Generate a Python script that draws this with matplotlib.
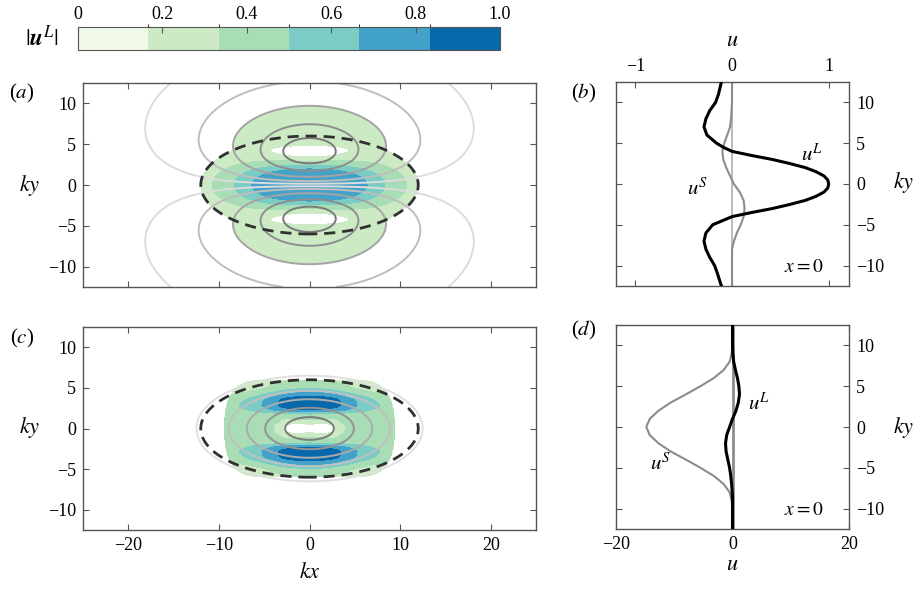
import numpy as np
import matplotlib.pyplot as plt
from matplotlib.colors import ListedColormap, BoundaryNorm
from matplotlib.mathtext import MathTextParser
import matplotlib as mpl

plt.rcParams['font.family'] = ['Liberation Serif', 'DejaVu Serif']
plt.rcParams['mathtext.fontset'] = 'stix'

# ---------------------------------------------------------------------------
# colour classes of |u^L|
# ---------------------------------------------------------------------------
level_edges = [0, 1/6, 2/6, 3/6, 4/6, 5/6, 1.0]
level_colors = ['#f0f9e8', '#ccebc5', '#a8ddb5', '#7bccc4', '#43a2ca', '#0868ac']
cbar_ticks = [0, 0.2, 0.4, 0.6, 0.8, 1.0]
cbar_labels = ['0', '0.2', '0.4', '0.6', '0.8', '1.0']

# ---------------------------------------------------------------------------
# (a) eddy pair, parameters
# ---------------------------------------------------------------------------
a_stretch = 1.44         # kx/ky aspect of the streamlines
a_stretch_u = 1.74       # kx/ky aspect used for |u^L|
a_decay = 9.03           # decay length in ky
a_gain = 1.05            # |u^L| scale
a_cap = 0.8              # |u^L| in the central jet
a_psi_levels = [0.157, 0.479, 0.97, 1.57, 2.07]
a_psi_colors = ['#dcdcdc', '#bebebe', '#a4a4a4', '#8e8e8e', '#7a7a7a']
a_edge_level = 0.97      # streamline bounding the coloured lobes

# (c) single eddy: |u^L| profiles read along x = 0 and ky = 0
c_ky_pts = [0, 0.5, 0.8, 1.8, 2.3, 2.6, 2.8, 3.4, 3.7, 3.9, 4.4, 4.9, 5.75, 6.5, 12.5]
c_u_prof = [0, 0.15, 0.25, 0.5, 0.85, 0.95, 1.0, 1.0, 0.95, 0.86, 0.68, 0.5, 0.38,
            0.32, 0.2]
c_kx_pts = [0, 1.5, 3, 4.6, 7, 9.4, 12, 25]
c_u_env = [1, 0.97, 0.87, 0.7, 0.5, 0.4, 0.3, 0.1]
c_v_kx = [0, 2.0, 2.8, 3.5, 5, 7, 9.4, 12, 25]
c_v_prof = [0, 0.05, 0.15, 0.3, 0.42, 0.45, 0.42, 0.35, 0.1]
c_v_ky = [0, 1, 2, 3, 4, 6, 12.5]
c_v_env = [1, 0.9, 0.65, 0.35, 0.15, 0.0, 0.0]
c_clip = [9.4, 6.0]      # edge of the coloured region

c_stretch = 1.92         # aspect of the grey ellipses
c_rho_levels = [1.4, 2.55, 3.6, 4.65, 6.5]
c_rho_colors = ['#7a7a7a', '#939393', '#ababab', '#c0c0c0', '#e0e0e0']

dash_axes = [12.0, 6.0]  # dashed ellipse

# ---------------------------------------------------------------------------
# profiles at x = 0
# ---------------------------------------------------------------------------
ky_b = [-12.5, -11, -10, -9, -8, -7, -6, -5, -4.5, -4, -3.5, -3, -2.5, -2, -1.5,
        -1, -0.5, 0, 0.5, 1, 1.5, 2, 2.5, 3, 3.5, 4, 4.5, 5, 6, 7, 8, 9, 10, 11, 12.5]
uL_b = [-0.11, -0.15, -0.18, -0.23, -0.27, -0.29, -0.27, -0.20, -0.10, 0.0, 0.20,
        0.42, 0.60, 0.76, 0.87, 0.95, 0.99, 1.0, 0.99, 0.95, 0.87, 0.76, 0.60, 0.42,
        0.20, 0.0, -0.09, -0.16, -0.26, -0.29, -0.27, -0.23, -0.17, -0.14, -0.11]
ky_bs = [-12.5, -10, -8, -7, -6, -5, -4, -3, -2, -1, 0, 1, 2, 3, 4, 5, 6, 7, 8, 10, 12.5]
uS_b = [0.0, 0.0, 0.0, 0.02, 0.05, 0.09, 0.12, 0.13, 0.12, 0.08, 0.02,
        -0.02, -0.06, -0.09, -0.10, -0.08, -0.05, -0.02, -0.01, 0.0, 0.0]

ky_d = [-12.5, -10, -9, -8, -7, -6, -5, -4, -3, -2, -1, 0, 1, 2, 3, 4, 5, 6, 7,
        8, 9, 10, 12.5]
uS_d = [0.0, 0.0, -0.15, -0.5, -1.5, -3.2, -5.5, -8.0, -10.6, -12.7, -14.2, -14.8,
        -14.2, -12.7, -10.6, -8.0, -5.5, -3.2, -1.5, -0.5, -0.15, 0.0, 0.0]
uL_d = [0.0, 0.0, 0.0, -0.05, -0.15, -0.3, -0.5, -0.8, -1.1, -1.2, -1.0, -0.5,
        0.0, 0.6, 1.0, 1.2, 1.1, 0.85, 0.5, 0.2, 0.05, 0.0, 0.0]

# ---------------------------------------------------------------------------
# fields on the wavenumber plane
# ---------------------------------------------------------------------------
kx = np.linspace(-25, 25, 601)
ky = np.linspace(-12.5, 12.5, 301)
KX, KY = np.meshgrid(kx, ky)
AX, AY = np.abs(KX), np.abs(KY)
ell = (KX / dash_axes[0])**2 + (KY / dash_axes[1])**2


def eddy_pair(stretch):
    rho = np.sqrt((KX / stretch)**2 + KY**2)
    return KY / (1 + (rho / a_decay)**2)**3


# (a): streamlines of the eddy pair, speed from the gradient
psi_a = eddy_pair(a_stretch)
dpsi_dy, dpsi_dx = np.gradient(eddy_pair(a_stretch_u), ky, kx)
speed_a = np.minimum(a_gain * np.hypot(dpsi_dy, dpsi_dx), a_cap)
speed_a[(ell > 1) & (np.abs(psi_a) < a_edge_level)] = 0.0

# (c): speed built from the read profiles
u_c = np.interp(AY, c_ky_pts, c_u_prof) * np.interp(AX, c_kx_pts, c_u_env)
v_c = np.interp(AX, c_v_kx, c_v_prof) * np.interp(AY, c_v_ky, c_v_env)
speed_c = np.hypot(u_c, v_c)
speed_c[(AX / c_clip[0])**8 + (AY / c_clip[1])**2 > 1] = 0.0
rho_c = np.sqrt((KX / c_stretch)**2 + KY**2)

# ---------------------------------------------------------------------------
# figure
# ---------------------------------------------------------------------------
W, H = 918, 589
fig = plt.figure(figsize=(W / 100, H / 100), dpi=100)
TICK = 13


def px_axes(x0, y0, x1, y1):
    return fig.add_axes([x0 / W, 1 - y1 / H, (x1 - x0) / W, (y1 - y0) / H])


def style(ax, **labels):
    for s in ax.spines.values():
        s.set_color('#555555')
        s.set_linewidth(1.0)
    ax.tick_params(direction='in', top=True, right=True, length=4, width=0.8,
                   color='#555555', labelsize=TICK, pad=5, **labels)


def fig_text(x, y, s, **kw):
    fig.text(x / W, 1 - y / H, s, ha='center', va='center', **kw)


fill_levels = level_edges[1:]
fill_colors = level_colors[1:]


def field_panel(ax, speed, line_field, line_levels, line_colors):
    ax.contourf(KX, KY, np.clip(speed, 0, 0.999), levels=fill_levels,
                colors=fill_colors, extend='neither')
    ax.contour(KX, KY, line_field, levels=line_levels, colors=line_colors,
               linewidths=1.4)
    ax.contour(KX, KY, ell, levels=[1.0], colors='#303030', linewidths=2.0,
               linestyles=[(0, (4, 2.5))])
    ax.set_xlim(-25, 25)
    ax.set_ylim(-12.5, 12.5)
    ax.set_xticks([-20, -10, 0, 10, 20])
    ax.set_yticks([-10, -5, 0, 5, 10])


# (a)
ax_a = px_axes(83, 83, 536, 287)
lev_a = [-v for v in a_psi_levels[::-1]] + a_psi_levels
col_a = a_psi_colors[::-1] + a_psi_colors
field_panel(ax_a, speed_a, psi_a, lev_a, col_a)
style(ax_a, labelbottom=False)

# (c)
ax_c = px_axes(83, 327, 536, 530)
field_panel(ax_c, speed_c, rho_c, c_rho_levels, c_rho_colors)
style(ax_c)

# (b)
ax_b = px_axes(616, 82, 849, 286)
ax_b.axvline(0, color='#b4b4b4', lw=1.3, zorder=1)
ax_b.plot(uS_b, ky_bs, color='#8c8c8c', lw=1.5, zorder=2)
ax_b.plot(uL_b, ky_b, color='black', lw=2.2, zorder=3)
ax_b.set_xlim(-1.2, 1.21)
ax_b.set_ylim(-12.5, 12.5)
ax_b.set_xticks([-1, 0, 1])
ax_b.set_yticks([-10, -5, 0, 5, 10])
style(ax_b, labelbottom=False, labelleft=False, labeltop=True, labelright=True)
ax_b.text(0.83, 3.5, r'$u^{L}$', fontsize=15, ha='center', va='center')
ax_b.text(-0.36, -0.6, r'$u^{S}$', fontsize=15, ha='center', va='center')
ax_b.text(0.74, -10.2, r'$x=0$', fontsize=14, ha='center', va='center')

# (d)
ax_d = px_axes(616, 325, 849, 529)
ax_d.axvline(0, color='#8c8c8c', lw=2.0, zorder=1)
ax_d.plot(uS_d, ky_d, color='#8c8c8c', lw=1.5, zorder=2)
ax_d.plot(uL_d, ky_d, color='black', lw=2.2, zorder=3)
ax_d.set_xlim(-20, 20)
ax_d.set_ylim(-12.5, 12.5)
ax_d.set_xticks([-20, 0, 20])
ax_d.set_yticks([-10, -5, 0, 5, 10])
style(ax_d, labelleft=False, labelright=True)
ax_d.text(4.6, 2.8, r'$u^{L}$', fontsize=15, ha='center', va='center')
ax_d.text(-12.4, -4.6, r'$u^{S}$', fontsize=15, ha='center', va='center')
ax_d.text(12.2, -10.2, r'$x=0$', fontsize=14, ha='center', va='center')

# colour bar
cax = px_axes(78, 27, 500, 50)
cmap = ListedColormap(level_colors)
norm = BoundaryNorm(level_edges, cmap.N)
cb = mpl.colorbar.ColorbarBase(cax, cmap=cmap, norm=norm, orientation='horizontal',
                               ticks=cbar_ticks)
cb.set_ticklabels(cbar_labels)
cb.outline.set_edgecolor('#555555')
cax.xaxis.set_ticks_position('top')
cax.tick_params(direction='in', length=4, width=0.8, color='#555555',
                labelsize=TICK, pad=3)

try:
    MathTextParser('agg').parse(r'$\mathbfit{u}$')
    u_label = r'$|\mathbfit{u}^{L}|$'
except Exception:
    u_label = r'$|\mathbf{u}^{L}|$'
fig_text(42, 38, u_label, fontsize=17)

# axis labels and panel letters
fig_text(30, 185, r'$ky$', fontsize=16)
fig_text(30, 428, r'$ky$', fontsize=16)
fig_text(904, 183, r'$ky$', fontsize=16)
fig_text(904, 427, r'$ky$', fontsize=16)
fig_text(310, 573, r'$kx$', fontsize=16)
fig_text(732, 42, r'$u$', fontsize=16)
fig_text(732, 565, r'$u$', fontsize=16)
fig_text(22, 93, r'($a$)', fontsize=15)
fig_text(584, 93, r'($b$)', fontsize=15)
fig_text(22, 338, r'($c$)', fontsize=15)
fig_text(584, 330, r'($d$)', fontsize=15)

fig.savefig('out.png', dpi=100)
